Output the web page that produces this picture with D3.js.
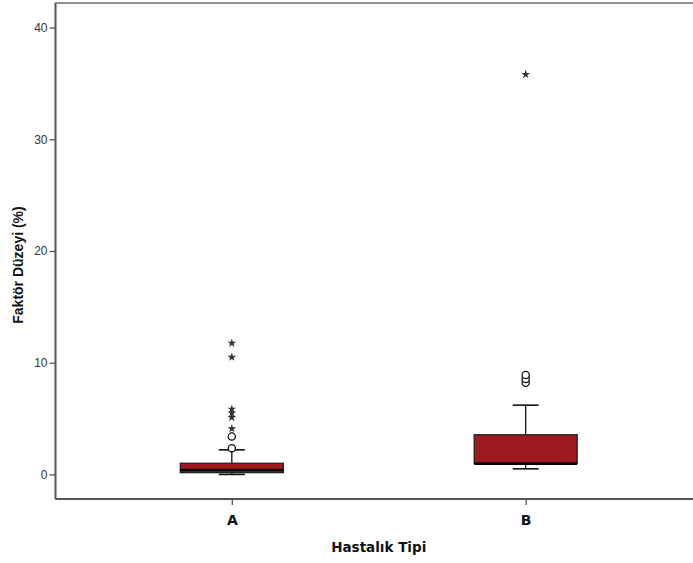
<!DOCTYPE html>
<html>
<head>
<meta charset="utf-8">
<script src="https://cdn.jsdelivr.net/npm/d3@7"></script>
<style>
  body { margin: 0; background: #fff; }
  svg { display: block; font-family: "Liberation Sans", Arial, sans-serif; }
</style>
</head>
<body>
<div id="chart"></div>
<script>
// Data
const categories = ["A", "B"];
const whiskerLow = [0.0, 0.5];
const q1 = [0.16, 1.0];
const median = [0.4, 0.95];
const q3 = [1.0, 3.55];
const whiskerHigh = [2.2, 6.2];
const circleOutliers = [[2.35, 3.4], [8.2, 8.55, 8.9]];
const starOutliers = [[4.1, 5.1, 5.5, 5.85, 10.5, 11.75], [35.8]];
const yTicks = [0, 10, 20, 30, 40];

const width = 693;
const height = 563;
const marginLeft = 55.5;
const marginTop = 3;
const plotRight = 702;
const plotBottom = 499;

const svg = d3.select("#chart").append("svg")
    .attr("width", width)
    .attr("height", height);

const x = d3.scalePoint()
    .domain(categories)
    .range([marginLeft, plotRight])
    .padding(0.6);

const y = d3.scaleLinear()
    .domain([-2.2, 42.2])
    .range([plotBottom, marginTop]);

const boxW = 103;
const capW = 26;

// Frame
svg.append("rect")
    .attr("x", marginLeft)
    .attr("y", marginTop)
    .attr("width", plotRight - marginLeft)
    .attr("height", plotBottom - marginTop)
    .attr("fill", "none")
    .attr("stroke", "#222")
    .attr("stroke-width", 1);

// Boxes
categories.forEach((c, i) => {
  const cx = x(c);
  const g = svg.append("g");
  // whisker lines
  g.append("line")
      .attr("x1", cx).attr("x2", cx)
      .attr("y1", y(q3[i])).attr("y2", y(whiskerHigh[i]))
      .attr("stroke", "#111").attr("stroke-width", 1.3);
  g.append("line")
      .attr("x1", cx).attr("x2", cx)
      .attr("y1", y(q1[i])).attr("y2", y(whiskerLow[i]))
      .attr("stroke", "#111").attr("stroke-width", 1.3);
  [whiskerLow[i], whiskerHigh[i]].forEach(v => {
    g.append("line")
        .attr("x1", cx - capW / 2).attr("x2", cx + capW / 2)
        .attr("y1", y(v)).attr("y2", y(v))
        .attr("stroke", "#111").attr("stroke-width", 1.6);
  });
  g.append("rect")
      .attr("x", cx - boxW / 2)
      .attr("y", y(q3[i]))
      .attr("width", boxW)
      .attr("height", y(q1[i]) - y(q3[i]))
      .attr("fill", "#9e1a1e")
      .attr("stroke", "#222")
      .attr("stroke-width", 1.3);
  g.append("line")
      .attr("x1", cx - boxW / 2).attr("x2", cx + boxW / 2)
      .attr("y1", y(median[i])).attr("y2", y(median[i]))
      .attr("stroke", "#000").attr("stroke-width", 2.6);

  circleOutliers[i].forEach(v => {
    g.append("circle")
        .attr("cx", cx).attr("cy", y(v)).attr("r", 3.6)
        .attr("fill", "#fff").attr("stroke", "#111").attr("stroke-width", 1.3);
  });
  starOutliers[i].forEach(v => {
    g.append("path")
        .attr("d", d3.symbol(d3.symbolStar, 24)())
        .attr("transform", `translate(${cx},${y(v)})`)
        .attr("fill", "#333");
  });
});

// Y axis
const yAxis = svg.append("g")
    .attr("transform", `translate(${marginLeft},0)`)
    .call(d3.axisLeft(y).tickValues(yTicks).tickSize(6).tickSizeOuter(0));
yAxis.select(".domain").attr("stroke", "#555").attr("stroke-width", 2)
    .attr("d", `M0,${marginTop}V${plotBottom}`);
yAxis.selectAll(".tick line").attr("stroke", "#555").attr("stroke-width", 1.3);
yAxis.selectAll("text").attr("font-size", "12px").attr("fill", "#333")
    .attr("font-family", "Liberation Sans, Arial, sans-serif").attr("x", -8);

// X axis
const xAxis = svg.append("g")
    .attr("transform", `translate(0,${plotBottom})`)
    .call(d3.axisBottom(x).tickSize(6).tickSizeOuter(0));
xAxis.select(".domain").attr("stroke", "#555").attr("stroke-width", 2)
    .attr("d", `M${marginLeft},0H${plotRight}`);
xAxis.selectAll(".tick line").attr("stroke", "#555").attr("stroke-width", 1.3);
xAxis.selectAll("text").attr("font-size", "14px").attr("font-weight", "bold")
    .attr("fill", "#111").attr("font-family", "DejaVu Sans, sans-serif")
    .attr("y", 16);

// Axis titles
svg.append("text")
    .attr("x", (marginLeft + plotRight) / 2)
    .attr("y", 552)
    .attr("text-anchor", "middle")
    .attr("font-size", "13.5px")
    .attr("font-weight", "bold")
    .attr("font-family", "DejaVu Sans, sans-serif")
    .attr("fill", "#111")
    .text("Hastalık Tipi");

svg.append("text")
    .attr("transform", "translate(23,265) rotate(-90)")
    .attr("text-anchor", "middle")
    .attr("font-size", "14px")
    .attr("font-weight", "bold")
    .attr("fill", "#111")
    .text("Faktör Düzeyi (%)");
</script>
</body>
</html>
